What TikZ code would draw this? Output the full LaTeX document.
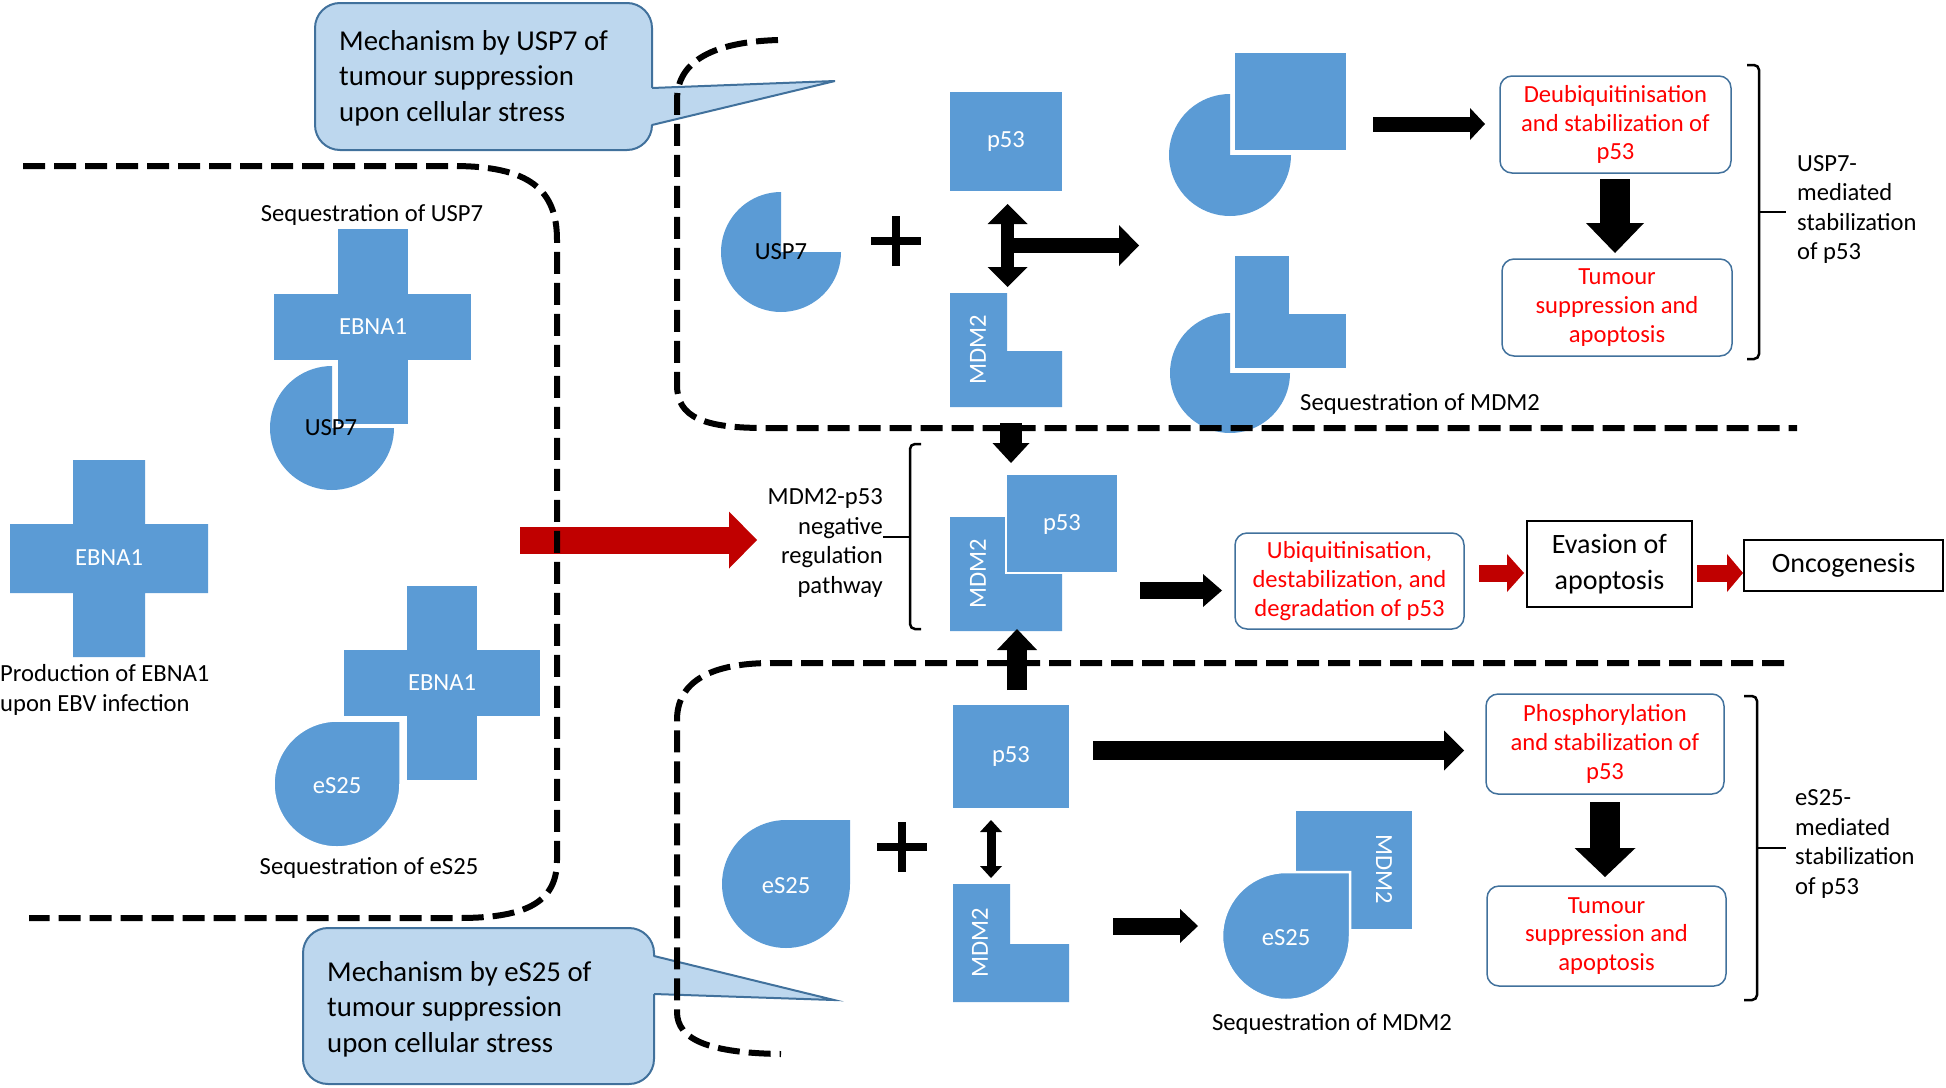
\documentclass[tikz,border=0pt]{standalone}
\usepackage{fontspec}
\setmainfont{Carlito}
\usetikzlibrary{arrows.meta}
\definecolor{molblue}{HTML}{5B9BD5}
\definecolor{callfill}{HTML}{BDD7EE}
\definecolor{callline}{HTML}{41719C}
\definecolor{boxline}{HTML}{41719C}
\definecolor{arrred}{HTML}{C00000}
\definecolor{txtred}{HTML}{FF0000}
\newcommand\mypacman[4]{\path[#4] (#1,#2) -- plot[domain=0:270,samples=61,variable=\t] ({#1+#3*cos(\t)},{#2+#3*sin(\t)}) -- cycle;}
\newcommand\mydrop[4]{\path[#4] ({#1+#3},{#2-#3}) -- plot[domain=0:270,samples=61,variable=\t] ({#1+#3*cos(\t)},{#2+#3*sin(\t)}) -- cycle;}
\newcommand\mycross[9]{\path[#9] (#1,#3) -- (#2,#3) -- (#2,#7) -- (#6,#7) -- (#6,#8) -- (#2,#8) -- (#2,#4) -- (#1,#4) -- (#1,#8) -- (#5,#8) -- (#5,#7) -- (#1,#7) -- cycle;}
\tikzset{
  lbl/.style={font=\fontsize{24.6}{29.5}\selectfont, inner sep=0pt, align=center},
  wlbl/.style={lbl, text=white},
  mol/.style={fill=molblue},
  molw/.style={fill=molblue, draw=white, line width=2.5pt},
  dashln/.style={line width=6pt, dash pattern=on 22pt off 9pt},
  redbox/.style={draw=boxline, line width=1.5pt, rounded corners=12pt, fill=white, text=txtred, font=\fontsize{24.6}{28.8}\selectfont, align=center, inner sep=0pt},
  blackbox/.style={draw=black, line width=2pt, fill=white, font=\fontsize{28}{36}\selectfont, align=center, inner sep=0pt},
  callbox/.style={draw=callline, fill=callfill, line width=2pt, rounded corners=25pt},
  calltxt/.style={font=\fontsize{28.8}{35.5}\selectfont, align=left, inner sep=0pt, anchor=west},
  brk/.style={line width=2.5pt},
  plussign/.style={line width=8pt},
  barrow/.style args={#1/#2/#3}{line width=#1pt, -{Triangle[width=#2pt,length=#3pt,line width=0pt]}},
  dbarrow/.style args={#1/#2/#3}{line width=#1pt, {Triangle[width=#2pt,length=#3pt,line width=0pt]}-{Triangle[width=#2pt,length=#3pt,line width=0pt]}},
}
\begin{document}
\begin{tikzpicture}[x=1pt,y=-1pt]
\useasboundingbox (0,0) rectangle (1946,1087);

% ---------- callouts
\node[callbox, minimum width=337pt, minimum height=147pt] (call1) at (483.5,76.5) {};
\fill[callfill] (649,88) -- (835,81) -- (649,125) -- cycle;
\draw[callline, line width=2pt] (652,88) -- (835,81) -- (652,125);
\node[calltxt] (call1t) at (339,78) {Mechanism by USP7 of\\tumour suppression\\upon cellular stress};

\node[callbox, minimum width=351pt, minimum height=156pt] (call2) at (478.5,1006) {};
\fill[callfill] (651,956) -- (834,1000) -- (651,994) -- cycle;
\draw[callline, line width=2pt] (654,956) -- (834,1000) -- (654,994);
\node[calltxt] (call2t) at (327,1009) {Mechanism by eS25 of\\tumour suppression\\upon cellular stress};

% ---------- left region
\mycross{73}{145}{460}{657}{10}{208}{524}{593}{mol}
\node[wlbl] (ebna0) at (109,558) {EBNA1};
\node[lbl, anchor=west, align=left] (prod) at (0,690) {Production of EBNA1\\upon EBV infection};

\node[lbl] (sequsp) at (372,215) {Sequestration of USP7};
\mypacman{332}{428}{62}{mol}
\mycross{337}{409}{228}{425}{273}{472}{293}{361}{molw}
\node[wlbl] (ebna1) at (373,327) {EBNA1};
\node[lbl] (usp7a) at (331,428) {USP7};

\mycross{406}{478}{585}{781}{343}{541}{649}{717}{molw}
\node[wlbl] (ebna2) at (442,683) {EBNA1};
\mydrop{337}{784}{63.5}{molw}
\node[wlbl] (es25a) at (337,786) {eS25};
\node[lbl] (seqes) at (369,868) {Sequestration of eS25};

% big red arrow
\coordinate (r0s) at (520,540);
\coordinate (r0e) at (757,540);
\draw[arrred, barrow=27/57/28] (r0s) -- (r0e);

% ---------- upper region
\mypacman{781}{252}{60}{mol}
\node[lbl] (usp7b) at (781,252) {USP7};
\coordinate (plus1) at (896,241);
\draw[plussign] ([xshift=-25pt]plus1) -- ([xshift=25pt]plus1) ([yshift=-25pt]plus1) -- ([yshift=25pt]plus1);

\node[fill=molblue, minimum width=112pt, minimum height=99pt, wlbl] (p53a) at (1006,141.5) {p53};
\path[mol] (950,293) -- (1007,293) -- (1007,351) -- (1062,351) -- (1062,407) -- (950,407) -- cycle;
\node[wlbl, rotate=90] (mdm2a) at (978,350) {MDM2};

\coordinate (x1t) at (1007.5,204);
\coordinate (x1b) at (1007.5,287);
\coordinate (x1m) at (1007.5,245.5);
\coordinate (x1r) at (1139,245.5);
\draw[dbarrow=13/40/20] (x1t) -- (x1b);
\draw[barrow=15/41/20] (x1m) -- (x1r);

\mypacman{1230}{155}{61}{mol}
\path[molw] (1234,52) rectangle (1347,151);
\mypacman{1230}{373}{60}{mol}
\path[molw] (1234,255) -- (1290,255) -- (1290,313) -- (1347,313) -- (1347,369) -- (1234,369) -- cycle;
\node[lbl, anchor=west] (seqm1) at (1300,404) {Sequestration of MDM2};

\node[redbox, minimum width=231pt, minimum height=97pt] (deub) at (1615.5,124.5) {Deubiquitinisation\\and stabilization of\\p53};
\node[redbox, minimum width=230pt, minimum height=97pt] (tum1) at (1617,307.5) {Tumour\\suppression and\\apoptosis};
\coordinate (a1s) at (1373,124);
\coordinate (a1e) at (1485,124);
\draw[barrow=15/32/15] (a1s) -- (a1e);
\coordinate (a3s) at (1615,179);
\coordinate (a3e) at (1615,253);
\draw[barrow=30/58/30] (a3s) -- (a3e);

\draw[brk, rounded corners=5pt] (1747,65) -- (1759,65) -- (1759,359) -- (1747,359);
\coordinate (br1) at (1759,212);
\coordinate (br1t) at (1786,212);
\draw[brk] (br1) -- (br1t);
\node[lbl, anchor=west, align=left] (usptxt) at (1797,209.5) {USP7-\\mediated\\stabilization\\of p53};

% ---------- middle region
\coordinate (a4s) at (1011,423);
\coordinate (a4e) at (1011,463);
\draw[barrow=22/37/20] (a4s) -- (a4e);

\path[mol] (950,517) -- (1006,517) -- (1006,573) -- (1062,573) -- (1062,631) -- (950,631) -- cycle;
\node[wlbl, rotate=90] (mdm2b) at (978,574) {MDM2};
\path[molw] (1006,474) rectangle (1118,573);
\node[wlbl] (p53b) at (1062,524) {p53};

\node[lbl, anchor=east, align=right] (negtxt) at (883,543) {MDM2-p53\\negative\\regulation\\pathway};
\draw[brk, rounded corners=5pt] (921,444) -- (910,444) -- (910,629) -- (921,629);
\coordinate (brm) at (910,537);
\coordinate (brmt) at (883,537);
\draw[brk] (brm) -- (brmt);

\node[redbox, minimum width=229pt, minimum height=96pt] (ubiq) at (1349.5,581) {Ubiquitinisation,\\destabilization, and\\degradation of p53};
\node[blackbox, minimum width=165pt, minimum height=86pt] (evas) at (1609.5,564) {Evasion of\\apoptosis};
\node[blackbox, minimum width=199pt, minimum height=51pt] (onco) at (1843.5,565.5) {Oncogenesis};
\coordinate (a6s) at (1140,590.5);
\coordinate (a6e) at (1222,590.5);
\draw[barrow=17/33/19] (a6s) -- (a6e);
\coordinate (a7s) at (1479,573);
\coordinate (a7e) at (1524,573);
\draw[arrred, barrow=17/38/17] (a7s) -- (a7e);
\coordinate (a8s) at (1697,573);
\coordinate (a8e) at (1743,573);
\draw[arrred, barrow=17/38/16] (a8s) -- (a8e);

\coordinate (a5s) at (1017,690);
\coordinate (a5e) at (1017,629);
\draw[barrow=20/40/21] (a5s) -- (a5e);

% ---------- lower region
\node[fill=molblue, minimum width=116pt, minimum height=103pt, wlbl] (p53c) at (1011,756.5) {p53};
\coordinate (a9s) at (1093,750.5);
\coordinate (a9e) at (1464,750.5);
\draw[barrow=19/40/20] (a9s) -- (a9e);

\node[redbox, minimum width=238pt, minimum height=100pt] (phos) at (1605,744) {Phosphorylation\\and stabilization of\\p53};
\node[redbox, minimum width=239pt, minimum height=100pt] (tum2) at (1606.5,936) {Tumour\\suppression and\\apoptosis};
\coordinate (a10s) at (1605,802);
\coordinate (a10e) at (1605,877);
\draw[barrow=30/61/29] (a10s) -- (a10e);

\draw[brk, rounded corners=5pt] (1744,696) -- (1757,696) -- (1757,1000) -- (1744,1000);
\coordinate (br2) at (1757,848);
\coordinate (br2t) at (1786,848);
\draw[brk] (br2) -- (br2t);
\node[lbl, anchor=west, align=left] (es25txt) at (1795,844) {eS25-\\mediated\\stabilization\\of p53};

\mydrop{786}{884}{64}{mol}
\node[wlbl] (es25b) at (786,886) {eS25};
\coordinate (plus2) at (902,847);
\draw[plussign] ([xshift=-25pt]plus2) -- ([xshift=25pt]plus2) ([yshift=-25pt]plus2) -- ([yshift=25pt]plus2);

\coordinate (a11s) at (991,820);
\coordinate (a11e) at (991,878);
\draw[dbarrow=9/22/12] (a11s) -- (a11e);

\path[mol] (953,884) -- (1010,884) -- (1010,944) -- (1069,944) -- (1069,1002) -- (953,1002) -- cycle;
\node[wlbl, rotate=90] (mdm2c) at (980,943) {MDM2};

\coordinate (a12s) at (1113,926);
\coordinate (a12e) at (1198,926);
\draw[barrow=17/34/18] (a12s) -- (a12e);

\path[mol] (1296,811) rectangle (1412,929);
\node[wlbl, rotate=-90] (mdm2d) at (1384,869) {MDM2};
\mydrop{1286}{936}{64}{molw}
\node[wlbl] (es25c) at (1286,938) {eS25};
\node[lbl] (seqm2) at (1332,1024) {Sequestration of MDM2};

% ---------- dashed region borders
\draw[dashln] (23,166) -- (453,166) .. controls (530,166) and (557,190) .. (557,240) -- (557,860) .. controls (557,900) and (530,918) .. (459,918) -- (29,918);
\draw[dashln] (778,40) .. controls (715,42) and (677,60) .. (677,100) -- (677,385) .. controls (677,418) and (705,428) .. (765,428) -- (1797,428);
\draw[dashln] (1784,663) -- (772,663) .. controls (705,663) and (677,685) .. (677,720) -- (677,1012) .. controls (677,1040) and (710,1053) .. (781,1054);
\end{tikzpicture}
\end{document}
